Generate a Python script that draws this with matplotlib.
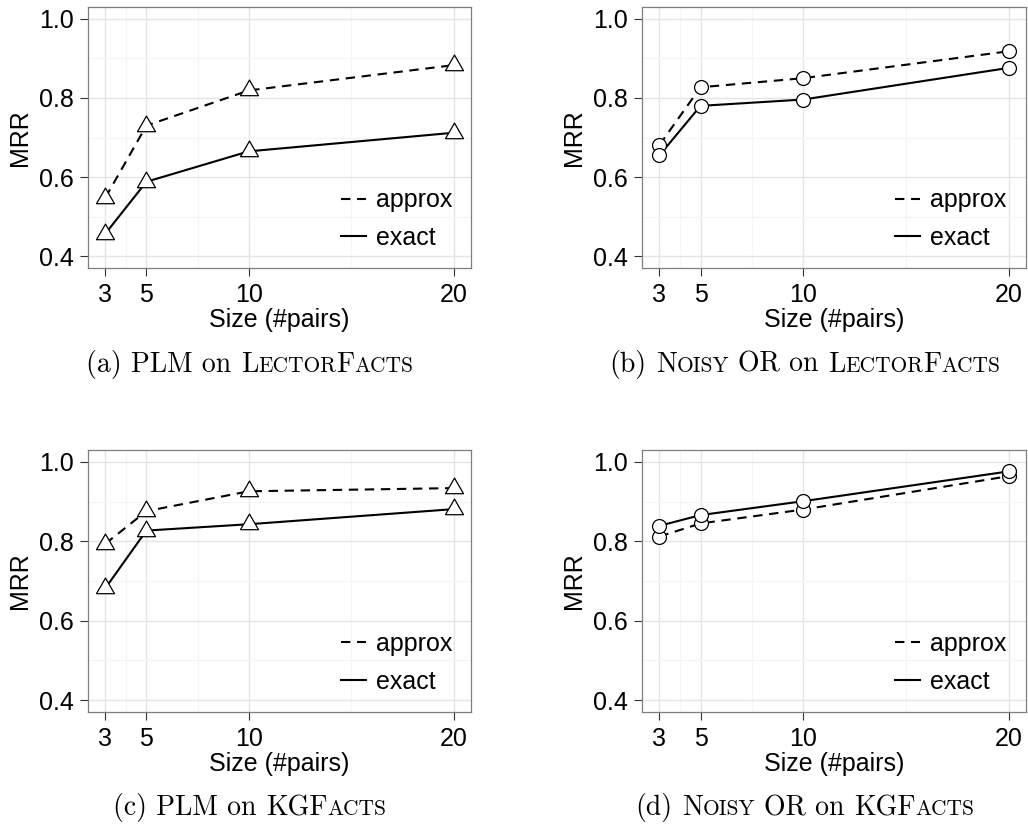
import matplotlib
matplotlib.use('Agg')
import matplotlib.pyplot as plt
import numpy as np
from matplotlib.path import Path

# data
sizes = [3, 5, 10, 20]
plm_lector_approx = [0.548, 0.730, 0.819, 0.883]
plm_lector_exact = [0.457, 0.588, 0.665, 0.712]
nor_lector_approx = [0.681, 0.827, 0.850, 0.918]
nor_lector_exact = [0.655, 0.780, 0.796, 0.876]
plm_kg_approx = [0.794, 0.876, 0.926, 0.934]
plm_kg_exact = [0.682, 0.827, 0.843, 0.881]
nor_kg_approx = [0.812, 0.845, 0.880, 0.964]
nor_kg_exact = [0.839, 0.866, 0.901, 0.976]

y_ticks = [0.4, 0.6, 0.8, 1.0]
y_ticklabels = ['0.4', '0.6', '0.8', '1.0']
series_labels = ['approx', 'exact']

# captions: (text, small caps?) pieces, ' ' = word space
cap_a = [('(a) PLM on', False), (' ', False), ('L', False), ('ECTOR', True), ('F', False), ('ACTS', True)]
cap_b = [('(b)', False), (' ', False), ('N', False), ('OISY', True), (' ', False), ('OR on', False),
         (' ', False), ('L', False), ('ECTOR', True), ('F', False), ('ACTS', True)]
cap_c = [('(c) PLM on', False), (' ', False), ('KGF', False), ('ACTS', True)]
cap_d = [('(d)', False), (' ', False), ('N', False), ('OISY', True), (' ', False), ('OR on', False),
         (' ', False), ('KGF', False), ('ACTS', True)]

plt.rcParams['font.family'] = ['Liberation Sans', 'DejaVu Sans']
plt.rcParams['font.size'] = 18

W, H = 1028, 824
fig = plt.figure(figsize=(W / 100, H / 100), dpi=100)

# equilateral triangle, centred on centroid
tri = Path([(0, 1.155), (-1, -0.577), (1, -0.577), (0, 1.155)],
           [Path.MOVETO, Path.LINETO, Path.LINETO, Path.CLOSEPOLY])

def panel(rect, approx, exact, marker, ms):
    ax = fig.add_axes(rect)
    ax.plot(sizes, approx, color='black', lw=1.5, ls=(0, (4.5, 3.2)), zorder=3, label=series_labels[0])
    ax.plot(sizes, exact, color='black', lw=1.5, ls='-', zorder=3, label=series_labels[1])
    for v in (approx, exact):
        ax.plot(sizes, v, ls='none', marker=marker, ms=ms, mfc='white', mec='black', mew=0.9, zorder=4)
    ax.set_xlim(3 - 0.05 * 17, 20 + 0.05 * 17)
    ax.set_ylim(0.37, 1.03)
    ax.set_xticks(sizes)
    ax.set_xticks([4, 7.5, 15], minor=True)
    ax.set_yticks(y_ticks)
    ax.set_yticklabels(y_ticklabels)
    ax.set_yticks([0.5, 0.7, 0.9], minor=True)
    ax.grid(True, which='major', color='#e5e5e5', lw=1.0)
    ax.grid(True, which='minor', color='#f5f5f5', lw=1.0)
    ax.set_axisbelow(True)
    ax.tick_params(which='major', length=5.5, width=0.8, color='#333333', pad=5, labelsize=18)
    ax.tick_params(which='minor', length=0)
    for s in ax.spines.values():
        s.set_color('#7f7f7f')
        s.set_linewidth(0.9)
    ax.set_xlabel('Size (#pairs)', fontsize=18, labelpad=1)
    ax.set_ylabel('MRR', fontsize=18, labelpad=5)
    ax.legend(loc='upper left', bbox_to_anchor=(0.66, 0.305), frameon=False, fontsize=18,
              handlelength=1.0, handletextpad=0.4, labelspacing=0.55, borderpad=0, borderaxespad=0)
    return ax

def caption(pieces, cx, top_px, size=20, small=0.77):
    # top_px: baseline position measured from the top of the image
    r = fig.canvas.get_renderer()
    yb = 1 - top_px / H
    objs = []
    total = 0
    for txt, sc in pieces:
        fs = size * small if sc else size
        if txt == ' ':
            w = 0.333 * size * 100 / 72
            objs.append((None, w))
        else:
            t = fig.text(0, yb, txt, fontsize=fs, family='cmr10', va='baseline', ha='left')
            w = t.get_window_extent(r).width
            objs.append((t, w))
        total += w
    x = cx - total / 2
    for t, w in objs:
        if t is not None:
            t.set_position((x / W, yb))
        x += w

top_h = 261 / H
panel([88 / W, (H - 268) / H, 383 / W, top_h], plm_lector_approx, plm_lector_exact, tri, 15)
panel([642 / W, (H - 268) / H, 384 / W, top_h], nor_lector_approx, nor_lector_exact, 'o', 10)
panel([88 / W, (H - 712) / H, 383 / W, 262 / H], plm_kg_approx, plm_kg_exact, tri, 15)
panel([642 / W, (H - 712) / H, 384 / W, 262 / H], nor_kg_approx, nor_kg_exact, 'o', 10)

caption(cap_a, 250, 372)
caption(cap_b, 805, 372)
caption(cap_c, 250, 815)
caption(cap_d, 805, 815)

fig.savefig('out.png', dpi=100)
